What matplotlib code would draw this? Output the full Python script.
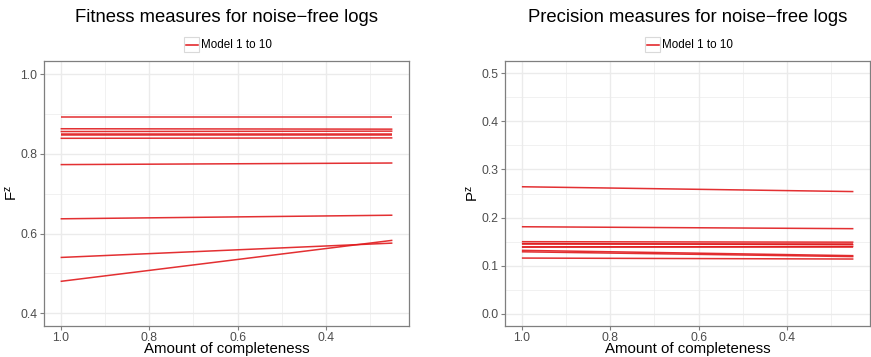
import matplotlib
matplotlib.use("Agg")
import matplotlib.pyplot as plt
from matplotlib.lines import Line2D
from matplotlib.patches import Rectangle
import numpy as np

plt.rcParams['font.family'] = ['Liberation Sans', 'DejaVu Sans']

# Amount of completeness (x, reversed axis)
completeness = [1.0, 0.25]

# Fitness F^z per model: value at completeness 1.0 and 0.25
fitness_start = [0.892, 0.863, 0.856, 0.850, 0.848, 0.839, 0.773, 0.637, 0.540, 0.480]
fitness_end   = [0.892, 0.862, 0.857, 0.850, 0.848, 0.840, 0.777, 0.646, 0.576, 0.583]

# Precision P^z per model
precision_start = [0.264, 0.181, 0.150, 0.146, 0.145, 0.139, 0.139, 0.132, 0.129, 0.116]
precision_end   = [0.254, 0.177, 0.149, 0.144, 0.145, 0.140, 0.139, 0.121, 0.119, 0.114]

titles = ["Fitness measures for noise\u2212free logs",
          "Precision measures for noise\u2212free logs"]
ylabels = [r"$\mathregular{F^z}$", r"$\mathregular{P^z}$"]
xlabel = "Amount of completeness"
legend_label = "Model 1 to 10"

W, H = 871, 357
fig = plt.figure(figsize=(W / 100, H / 100), dpi=100)

line_color = "#E0191C"
grid_c = "#EBEBEB"
border_c = "#7F7F7F"
text_c = "#4D4D4D"

panels = [
    dict(rect=[44 / W, 31 / H, 365 / W, 265 / H], starts=fitness_start, ends=fitness_end,
         ylim=(0.368, 1.033), yticks=[0.4, 0.6, 0.8, 1.0], yminor=[0.5, 0.7, 0.9], ylab_x=12),
    dict(rect=[505.3 / W, 31 / H, 364.7 / W, 265 / H], starts=precision_start, ends=precision_end,
         ylim=(-0.025, 0.525), yticks=[0.0, 0.1, 0.2, 0.3, 0.4, 0.5],
         yminor=[0.05, 0.15, 0.25, 0.35, 0.45], ylab_x=473),
]

for i, p in enumerate(panels):
    ax = fig.add_axes(p['rect'])
    ax.set_facecolor('white')
    for s, e in zip(p['starts'], p['ends']):
        ax.plot(completeness, [s, e], color=line_color, lw=1.1, alpha=0.9, solid_capstyle='butt', zorder=3)
    ax.set_xlim(1.0375, 0.2125)
    ax.set_ylim(*p['ylim'])
    ax.set_xticks([1.0, 0.8, 0.6, 0.4])
    ax.set_xticklabels(["1.0", "0.8", "0.6", "0.4"])
    ax.set_xticks([0.9, 0.7, 0.5, 0.3], minor=True)
    ax.set_yticks(p['yticks'])
    ax.set_yticklabels([f"{v:.1f}" for v in p['yticks']])
    ax.set_yticks(p['yminor'], minor=True)
    ax.grid(which='major', color=grid_c, lw=1.0, zorder=0)
    ax.grid(which='minor', color=grid_c, lw=0.5, zorder=0)
    ax.set_axisbelow(True)
    for sp in ax.spines.values():
        sp.set_color(border_c)
        sp.set_linewidth(0.9)
    ax.tick_params(which='major', length=3, width=0.8, color=border_c, labelsize=8.8,
                   labelcolor=text_c)
    ax.tick_params(axis='x', which='major', pad=1.0)
    ax.tick_params(axis='y', which='major', pad=2)
    ax.tick_params(which='minor', length=0)
    cx_px = (p['rect'][0] + p['rect'][2] / 2) * W
    cy = p['rect'][1] + p['rect'][3] / 2
    fig.text(cx_px / W, 1 - 353.5 / H, xlabel, ha='center', va='baseline', fontsize=10.8, color='black')
    fig.text(p['ylab_x'] / W, cy, ylabels[i], ha='center', va='center', rotation=90,
             fontsize=10.8, color='black')
    fig.text(cx_px / W, 1 - 17 / H, titles[i], ha='center', va='center', fontsize=13.3, color='black')
    # legend: key box with line, then label
    kx0 = cx_px - 42.5
    fig.add_artist(Rectangle((kx0 / W, 1 - 52 / H), 15 / W, 15 / H, transform=fig.transFigure,
                             facecolor='white', edgecolor='#D9D9D9', lw=0.8))
    fig.add_artist(Line2D([(kx0 + 1.5) / W, (kx0 + 13.5) / W], [1 - 44.5 / H, 1 - 44.5 / H],
                          transform=fig.transFigure, color=line_color, lw=1.1))
    fig.text((kx0 + 17) / W, 1 - 44.5 / H, legend_label, ha='left', va='center', fontsize=8.4,
             color='black')

fig.savefig("out.png", dpi=100)
